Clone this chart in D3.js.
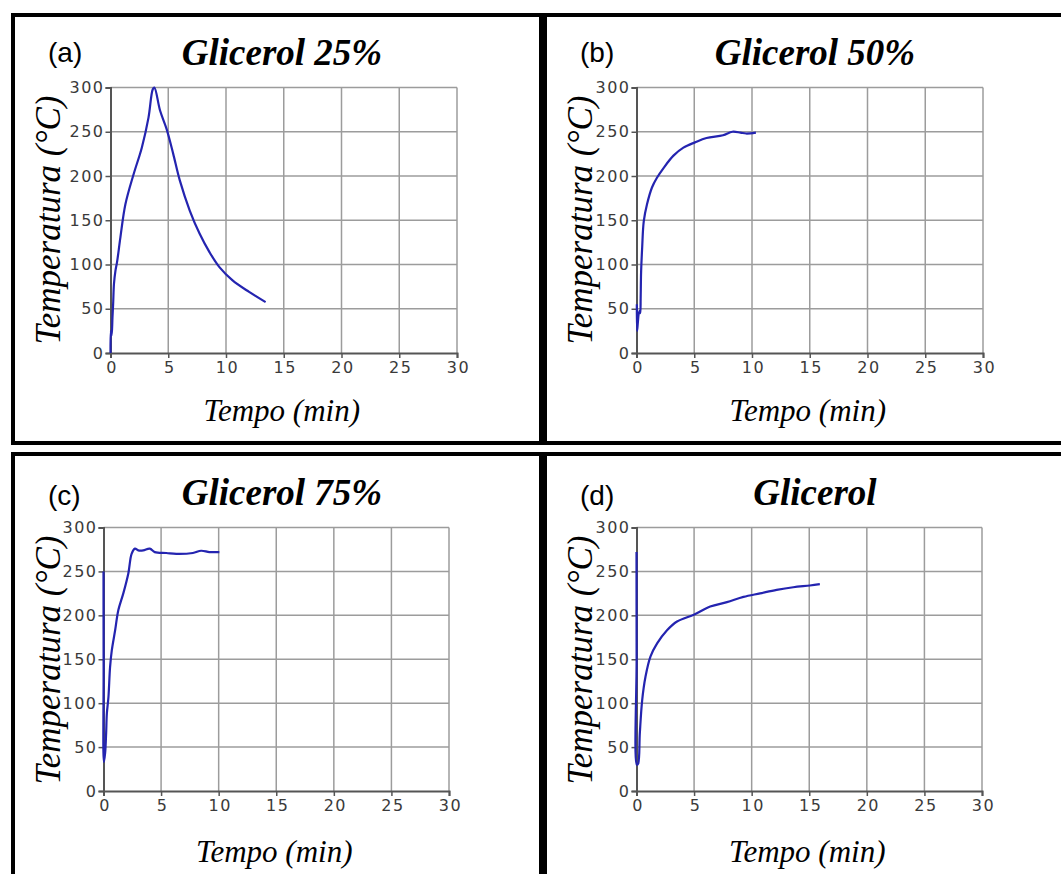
<!DOCTYPE html>
<html>
<head>
<meta charset="utf-8">
<script src="https://cdn.jsdelivr.net/npm/d3@7"></script>
<style>
  body { margin: 0; background: #fff; }
  .tick text { font-family: "DejaVu Sans", Verdana, sans-serif; font-size: 16px; fill: #3a3a3a; letter-spacing: 1.5px; }
</style>
</head>
<body>
<div id="chart"></div>
<script>
const W = 1061, H = 874;

// axis ticks shared by every panel
const xTicks = [0, 5, 10, 15, 20, 25, 30];
const yTicks = [0, 50, 100, 150, 200, 250, 300];

const panelLetters = ["(a)", "(b)", "(c)", "(d)"];
const panelTitles = ["Glicerol 25%", "Glicerol 50%", "Glicerol 75%", "Glicerol"];

// temperature curves: [time (min), temperature (°C)]
const glic25 = [[0, 0], [0.03, 25], [0.1, 20], [0.17, 40], [0.23, 56], [0.3, 78], [0.43, 93], [0.57, 103],
  [0.86, 131], [1.29, 168], [2.0, 202], [2.71, 232], [3.29, 266], [3.66, 298], [3.8, 300],
  [4.29, 274], [4.86, 253], [5.43, 225], [6.0, 195], [6.86, 161], [7.71, 135], [8.57, 114],
  [9.43, 97], [10.57, 82], [12.0, 69], [13.43, 57.5]];
const glic50 = [[0.03, 55], [0.05, 25], [0.12, 35], [0.2, 45], [0.28, 48], [0.33, 45], [0.36, 62],
  [0.4, 92], [0.49, 119], [0.63, 149], [0.91, 168], [1.34, 187], [1.77, 198], [2.34, 209],
  [3.2, 223], [4.06, 232], [5.06, 238], [6.06, 243], [7.49, 246], [8.3, 250], [9.0, 249],
  [9.49, 248], [10.34, 249]];
const glic75 = [[0, 250], [0.01, 140], [0.03, 33], [0.14, 43], [0.23, 66], [0.29, 88], [0.43, 107],
  [0.57, 141], [0.72, 160], [1.01, 183], [1.29, 206], [1.72, 225], [2.16, 248], [2.44, 270],
  [2.73, 276], [3.02, 274], [3.45, 274], [4.02, 276], [4.45, 272], [5.46, 271], [6.32, 270],
  [7.76, 271], [8.48, 273.5], [9.2, 272], [10.06, 272]];
const glic100 = [[0, 272], [0.01, 150], [0.03, 30], [0.14, 31], [0.29, 66], [0.49, 103], [0.78, 130],
  [1.21, 153], [1.79, 168], [2.65, 183], [3.52, 193], [5.02, 201], [6.4, 210], [7.85, 215],
  [9.29, 221], [10.73, 225], [12.17, 229], [13.61, 232], [15.06, 234], [15.92, 235.5]];

const series = [glic25, glic50, glic75, glic100];

// where each panel sits on the page
const layout = [
  { x0: 110.5, x1: 457, y0: 353, y1: 87.5, letterX: 48, letterY: 62, titleX: 282, titleY: 65, ylabX: 60, ylabY: 220, xlabY: 421 },
  { x0: 636.5, x1: 983, y0: 353, y1: 87.5, letterX: 580, letterY: 62, titleX: 815, titleY: 65, ylabX: 592, ylabY: 220, xlabY: 421 },
  { x0: 103.5, x1: 449, y0: 791, y1: 527.5, letterX: 48, letterY: 505, titleX: 282, titleY: 505, ylabX: 60, ylabY: 660, xlabY: 862 },
  { x0: 636.5, x1: 982, y0: 791, y1: 527.5, letterX: 580, letterY: 505, titleX: 815, titleY: 505, ylabX: 592, ylabY: 660, xlabY: 862 }
];

const svg = d3.select("#chart").append("svg")
    .attr("width", W)
    .attr("height", H);

// thick black frames round the four panels
const frame = svg.append("g")
    .attr("fill", "none")
    .attr("stroke", "#000")
    .attr("stroke-width", 4);
frame.append("rect").attr("x", 13).attr("y", 15).attr("width", 528).attr("height", 428);
frame.append("rect").attr("x", 545).attr("y", 15).attr("width", 530).attr("height", 428);
frame.append("rect").attr("x", 13).attr("y", 454).attr("width", 528).attr("height", 440);
frame.append("rect").attr("x", 545).attr("y", 454).attr("width", 530).attr("height", 440);

series.forEach((data, i) => {
    const p = layout[i];
    const g = svg.append("g");

    const x = d3.scaleLinear().domain([0, 30]).range([p.x0, p.x1]);
    const y = d3.scaleLinear().domain([0, 300]).range([p.y0, p.y1]);

    // grid
    g.append("g").selectAll("line")
        .data(xTicks.slice(1))
        .join("line")
        .attr("x1", d => x(d)).attr("x2", d => x(d))
        .attr("y1", p.y0).attr("y2", p.y1)
        .attr("stroke", "#9c9c9c").attr("stroke-width", 1.5);
    g.append("g").selectAll("line")
        .data(yTicks.slice(1))
        .join("line")
        .attr("x1", p.x0).attr("x2", p.x1)
        .attr("y1", d => y(d)).attr("y2", d => y(d))
        .attr("stroke", "#9c9c9c").attr("stroke-width", 1.5);

    // axes
    const xAxis = g.append("g")
        .attr("transform", `translate(0,${p.y0})`)
        .call(d3.axisBottom(x).tickValues(xTicks).tickSize(5).tickPadding(4));
    const yAxis = g.append("g")
        .attr("transform", `translate(${p.x0},0)`)
        .call(d3.axisLeft(y).tickValues(yTicks).tickSize(5).tickPadding(1));
    [xAxis, yAxis].forEach(a => {
        a.select(".domain").attr("stroke", "#555").attr("stroke-width", 2);
        a.selectAll(".tick line").attr("stroke", "#555").attr("stroke-width", 1.5);
    });
    xAxis.selectAll(".tick text").attr("dx", "1px");

    // curve
    g.append("path")
        .datum(data)
        .attr("fill", "none")
        .attr("stroke", "#2424b0")
        .attr("stroke-width", 2.2)
        .attr("stroke-linejoin", "round")
        .attr("d", d3.line().curve(d3.curveCatmullRom.alpha(0.5)).x(d => x(d[0])).y(d => y(d[1])));

    // texts
    g.append("text")
        .attr("x", p.letterX).attr("y", p.letterY)
        .attr("font-family", "Liberation Sans, Arial, sans-serif")
        .attr("font-size", 28)
        .text(panelLetters[i]);
    g.append("text")
        .attr("x", p.titleX).attr("y", p.titleY)
        .attr("text-anchor", "middle")
        .attr("font-family", "Liberation Serif, Times New Roman, serif")
        .attr("font-style", "italic").attr("font-weight", "bold")
        .attr("font-size", 37)
        .text(panelTitles[i]);
    g.append("text")
        .attr("transform", `translate(${p.ylabX},${p.ylabY}) rotate(-90)`)
        .attr("text-anchor", "middle")
        .attr("font-family", "Liberation Serif, Times New Roman, serif")
        .attr("font-style", "italic")
        .attr("font-size", 35)
        .text("Temperatura (°C)");
    g.append("text")
        .attr("x", (p.x0 + p.x1) / 2 - 2).attr("y", p.xlabY)
        .attr("text-anchor", "middle")
        .attr("font-family", "Liberation Serif, Times New Roman, serif")
        .attr("font-style", "italic")
        .attr("font-size", 31)
        .text("Tempo (min)");
});
</script>
</body>
</html>
